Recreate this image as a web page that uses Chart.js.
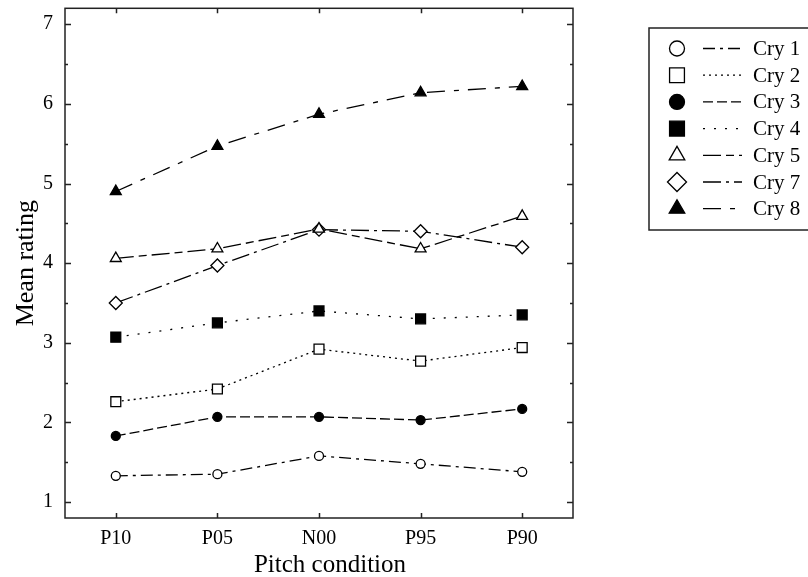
<!DOCTYPE html>
<html><head><meta charset="utf-8">
<script src="https://cdn.jsdelivr.net/npm/chart.js@4"></script>
<style>html,body{margin:0;padding:0;background:#fff}#wrap{width:808px;height:577px}</style>
</head><body><div id="wrap"><canvas id="c" width="808" height="577"></canvas></div>
<script>
const categories = ['P10', 'P05', 'N00', 'P95', 'P90'];
const seriesLabels = ['Cry 1', 'Cry 2', 'Cry 3', 'Cry 4', 'Cry 5', 'Cry 7', 'Cry 8'];
const cry1 = [1.33, 1.35, 1.58, 1.48, 1.38];
const cry2 = [2.26, 2.42, 2.92, 2.77, 2.94];
const cry3 = [1.83, 2.07, 2.07, 2.03, 2.17];
const cry4 = [3.07, 3.25, 3.40, 3.30, 3.35];
const cry5 = [4.06, 4.18, 4.43, 4.18, 4.59];
const cry7 = [3.50, 3.97, 4.42, 4.40, 4.20];
const cry8 = [4.90, 5.47, 5.87, 6.14, 6.22];
const yTickValues = [1, 2, 3, 4, 5, 6, 7];
const yMinorTickValues = [1.5, 2.5, 3.5, 4.5, 5.5, 6.5];
const xTitle = 'Pitch condition';
const yTitle = 'Mean rating';

const FONT = "'Liberation Serif', 'Times New Roman', serif";
const seriesValues = [cry1, cry2, cry3, cry4, cry5, cry7, cry8];
const styles = [
  {ps: 'circle', fill: '#fff', dash: [12, 5, 3, 5], r: 4.5, lr: 7.5},
  {ps: 'rect', fill: '#fff', dash: [2, 4], r: 7, lr: 10.5},
  {ps: 'circle', fill: '#000', dash: [10, 4], r: 4.5, lr: 7.5},
  {ps: 'rect', fill: '#000', dash: [2, 9], r: 7, lr: 10.5},
  {ps: 'triangle', fill: '#fff', dash: [18, 5, 8, 5], r: 6.3, lr: 9},
  {ps: 'rectRot', fill: '#fff', dash: [18, 5, 3, 5], r: 6.5, lr: 9.5},
  {ps: 'triangle', fill: '#000', dash: [18, 9, 5, 9], r: 6.3, lr: 9}
];

const datasets = seriesLabels.map((lab, i) => ({
  label: lab,
  data: seriesValues[i],
  borderColor: '#000',
  borderWidth: 1.3,
  borderDash: styles[i].dash,
  fill: false,
  tension: 0,
  pointStyle: styles[i].ps,
  pointRadius: styles[i].r,
  pointHoverRadius: styles[i].r,
  pointBackgroundColor: styles[i].fill,
  pointBorderColor: '#000',
  pointBorderWidth: 1.3,
  legendRadius: styles[i].lr
}));

const framePlugin = {
  id: 'frame',
  afterDraw(chart) {
    const ctx = chart.ctx, a = chart.chartArea;
    const xs = chart.scales.x, ys = chart.scales.y;
    ctx.save();
    ctx.strokeStyle = '#222';
    ctx.lineWidth = 1.5;
    ctx.setLineDash([]);
    ctx.strokeRect(a.left, a.top, a.right - a.left, a.bottom - a.top);
    ctx.beginPath();
    yTickValues.forEach(v => {
      const py = Math.round(ys.getPixelForValue(v)) + 0.5;
      ctx.moveTo(a.left, py); ctx.lineTo(a.left + 6, py);
      ctx.moveTo(a.right, py); ctx.lineTo(a.right - 6, py);
    });
    yMinorTickValues.forEach(v => {
      const py = Math.round(ys.getPixelForValue(v)) + 0.5;
      ctx.moveTo(a.left, py); ctx.lineTo(a.left + 3, py);
      ctx.moveTo(a.right, py); ctx.lineTo(a.right - 3, py);
    });
    categories.forEach((c, i) => {
      const px = Math.round(xs.getPixelForValue(i)) + 0.5;
      ctx.moveTo(px, a.bottom); ctx.lineTo(px, a.bottom - 5);
      ctx.moveTo(px, a.top); ctx.lineTo(px, a.top + 5);
    });
    ctx.stroke();

    // x axis title
    ctx.fillStyle = '#000';
    ctx.font = '25px ' + FONT;
    ctx.textAlign = 'center';
    ctx.textBaseline = 'alphabetic';
    ctx.fillText(xTitle, 330, 572);

    // legend
    const bx = 649, by = 28, bw = 200, bh = 202;
    ctx.lineWidth = 1.5;
    ctx.strokeRect(bx, by, bw, bh);
    const rowY0 = 48.5, rowH = 26.7;
    ctx.font = '21px ' + FONT;
    ctx.textAlign = 'left';
    ctx.textBaseline = 'middle';
    chart.data.datasets.forEach((ds, i) => {
      const y = rowY0 + i * rowH;
      ctx.save();
      ctx.lineWidth = 1.3;
      ctx.strokeStyle = '#000';
      ctx.setLineDash(ds.borderDash);
      ctx.beginPath();
      ctx.moveTo(703, y); ctx.lineTo(742, y);
      ctx.stroke();
      ctx.restore();
      ctx.save();
      ctx.setLineDash([]);
      ctx.fillStyle = ds.pointBackgroundColor;
      ctx.strokeStyle = '#000';
      ctx.lineWidth = 1.3;
      Chart.helpers.drawPoint(ctx, {pointStyle: ds.pointStyle, radius: ds.legendRadius, borderWidth: 1.3, rotation: 0}, 677, y);
      ctx.restore();
      ctx.fillText(ds.label, 753, y + 1);
    });
    ctx.restore();
  }
};

new Chart(document.getElementById('c'), {
  type: 'line',
  data: {labels: categories, datasets: datasets},
  options: {
    responsive: false,
    devicePixelRatio: 1,
    animation: false,
    layout: {padding: {left: 0, top: 8, right: 235, bottom: 0}},
    plugins: {legend: {display: false}, tooltip: {enabled: false}},
    scales: {
      x: {
        type: 'category',
        offset: true,
        grid: {display: false, drawTicks: false},
        border: {display: false},
        ticks: {color: '#000', font: {family: FONT, size: 20}, padding: 9, maxRotation: 0},
        afterFit(s) { s.height = 59; s.paddingLeft = 0; s.paddingRight = 0; }
      },
      y: {
        type: 'linear',
        min: 0.8,
        max: 7.2,
        grid: {display: false, drawTicks: false},
        border: {display: false},
        ticks: {color: '#000', font: {family: FONT, size: 20}, padding: 12},
        afterBuildTicks(s) { s.ticks = yTickValues.map(v => ({value: v})); },
        title: {display: true, text: yTitle, color: '#000', font: {family: FONT, size: 26}, padding: {top: 11, bottom: 0}},
        afterFit(s) { s.width = 65; s.paddingTop = 0; s.paddingBottom = 0; }
      }
    }
  },
  plugins: [framePlugin]
});
</script>
</body></html>
